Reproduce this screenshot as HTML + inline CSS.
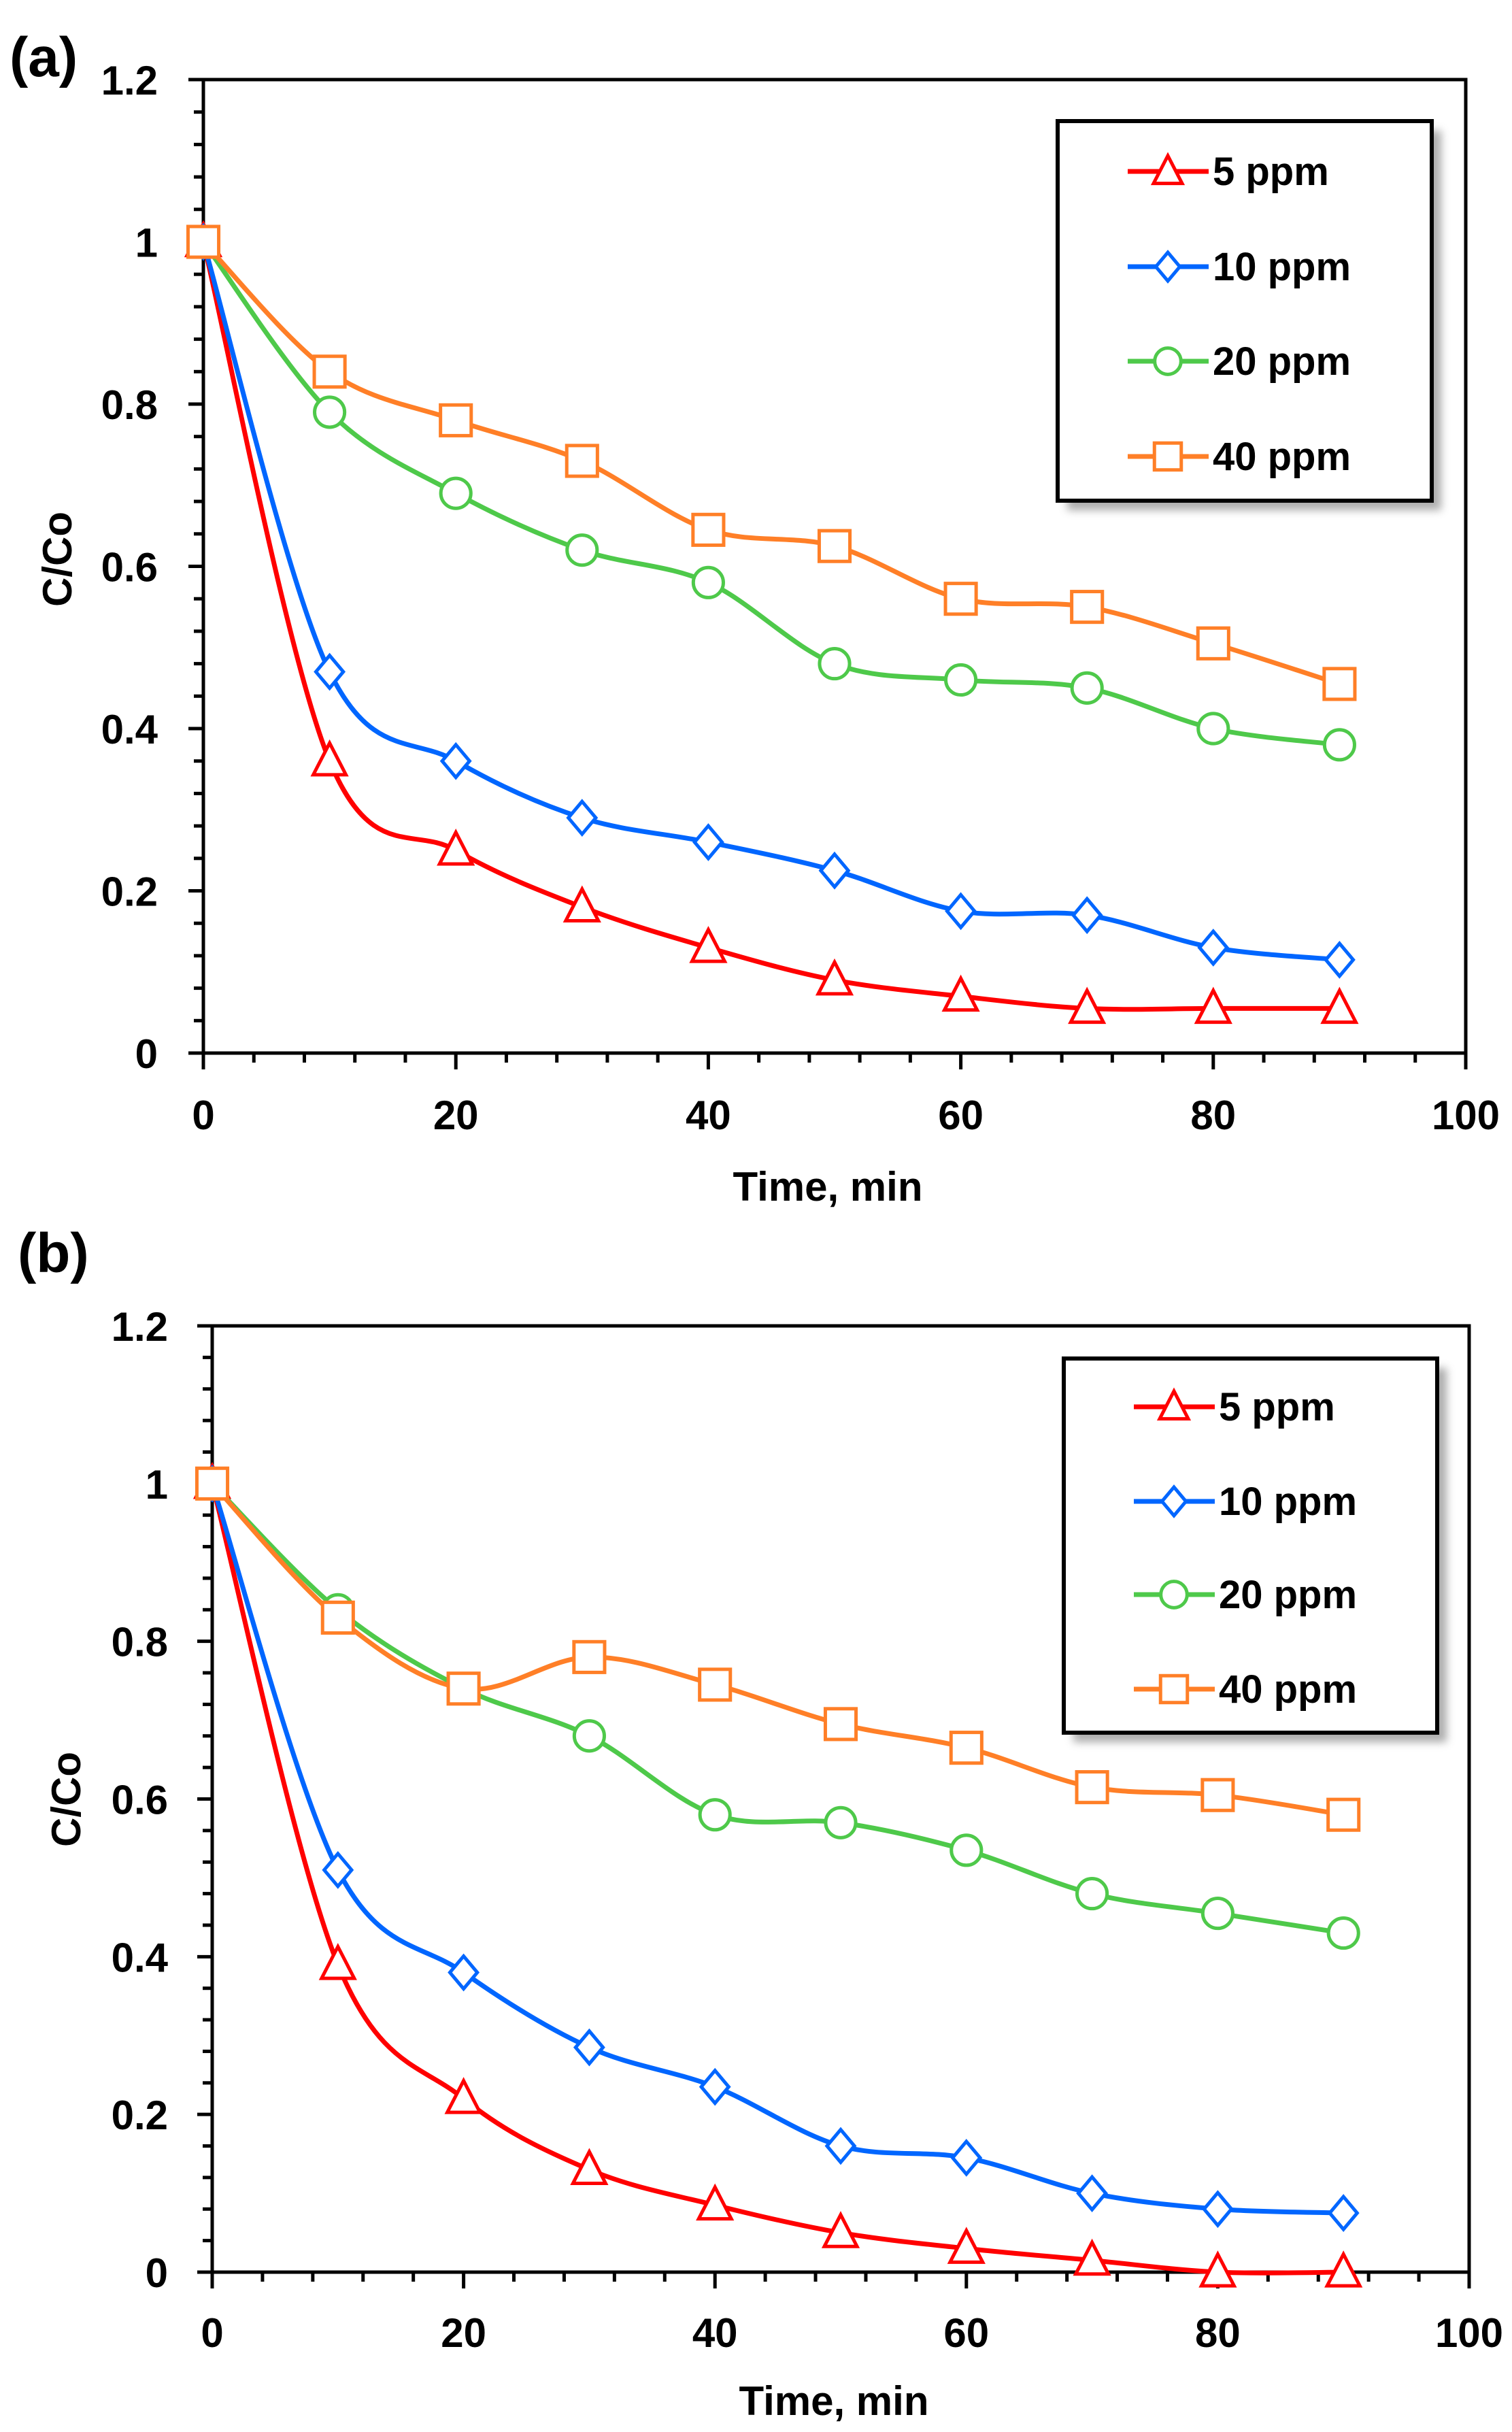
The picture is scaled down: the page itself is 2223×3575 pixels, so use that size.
<!DOCTYPE html>
<html><head><meta charset="utf-8">
<style>
html,body{margin:0;padding:0;background:#fff;}
svg{display:block;font-family:"Liberation Sans",sans-serif;font-weight:bold;}
</style></head>
<body>
<svg id="fig" width="2223" height="3575" viewBox="0 0 2223 3575" xmlns="http://www.w3.org/2000/svg">
<defs>
<filter id="shadow" x="-10%" y="-10%" width="130%" height="130%"><feGaussianBlur stdDeviation="6"/></filter>
</defs>
</svg>
<script>
// ---- data ----
const times = [0,10,20,30,40,50,60,70,80,90];
const seriesNames = ["5 ppm","10 ppm","20 ppm","40 ppm"];
const xTicks = [0,20,40,60,80,100];
const yTicks = [0,0.2,0.4,0.6,0.8,1,1.2];
const yTickLabels = ["0","0.2","0.4","0.6","0.8","1","1.2"];
const a5ppm  = [1,0.36,0.25,0.18,0.13,0.09,0.07,0.055,0.055,0.055];
const a10ppm = [1,0.47,0.36,0.29,0.26,0.225,0.175,0.17,0.13,0.115];
const a20ppm = [1,0.79,0.69,0.62,0.58,0.48,0.46,0.45,0.40,0.38];
const a40ppm = [1,0.84,0.78,0.73,0.645,0.625,0.56,0.55,0.505,0.455];
const b5ppm  = [1,0.39,0.22,0.13,0.085,0.05,0.03,0.015,0,0];
const b10ppm = [1,0.51,0.38,0.285,0.235,0.16,0.145,0.10,0.08,0.075];
const b20ppm = [1,0.84,0.74,0.68,0.58,0.57,0.535,0.48,0.455,0.43];
const b40ppm = [1,0.83,0.74,0.78,0.745,0.695,0.665,0.615,0.605,0.58];

const NS="http://www.w3.org/2000/svg";
const svg=document.getElementById('fig');
const colors=["#ff0000","#0066ff","#4ec94a","#ff7f27"];
const markers=["triangle","diamond","circle","square"];

function mk(tag,attrs,parent){const e=document.createElementNS(NS,tag);for(const k in attrs)e.setAttribute(k,attrs[k]);(parent||svg).appendChild(e);return e;}

function smoothPath(pts){
  let d="M"+pts[0][0]+","+pts[0][1];
  for(let i=0;i<pts.length-1;i++){
    const p0=pts[Math.max(0,i-1)],p1=pts[i],p2=pts[i+1],p3=pts[Math.min(pts.length-1,i+2)];
    const c1x=p1[0]+(p2[0]-p0[0])/6,c1y=p1[1]+(p2[1]-p0[1])/6;
    const c2x=p2[0]-(p3[0]-p1[0])/6,c2y=p2[1]-(p3[1]-p1[1])/6;
    d+=" C"+c1x+","+c1y+" "+c2x+","+c2y+" "+p2[0]+","+p2[1];
  }
  return d;
}

function drawMarker(g,type,x,y,s,color){
  let e;
  const st={fill:"#fff",stroke:color,"stroke-width":5};
  if(type==="triangle"){e=mk('polygon',Object.assign({points:`${x},${y-s*0.55} ${x+s*0.5},${y+s*0.42} ${x-s*0.5},${y+s*0.42}`},st),g);}
  else if(type==="diamond"){e=mk('polygon',Object.assign({points:`${x},${y-s*0.5} ${x+s*0.42},${y} ${x},${y+s*0.5} ${x-s*0.42},${y}`},st),g);}
  else if(type==="circle"){e=mk('circle',Object.assign({cx:x,cy:y,r:s*0.46},st),g);}
  else {e=mk('rect',Object.assign({x:x-s*0.47,y:y-s*0.47,width:s*0.94,height:s*0.94},st),g);}
  return e;
}

function drawChart(cfg){
  const g=mk('g',{});
  
  
  const X=v=>cfg.x0+(v-0)/100*(cfg.x1-cfg.x0);
  const Y=v=>cfg.y0-(v/1.2)*(cfg.y0-cfg.y1);
  // panel label
  const pl=mk('text',{x:cfg.labelX,y:cfg.labelY,'font-size':82},g);pl.textContent=cfg.label;
  
  
  // frame
  const fr=mk('rect',{x:cfg.x0,y:cfg.y1,width:cfg.x1-cfg.x0,height:cfg.y0-cfg.y1,fill:"none",stroke:"#000","stroke-width":5},g);
  
  
  // y ticks
  for(let v=0;v<=1.2001;v+=0.04){
    const major=Math.abs(v/0.2-Math.round(v/0.2))<1e-6;
    mk('line',{x1:cfg.x0-(major?22:14),x2:cfg.x0,y1:Y(v),y2:Y(v),stroke:"#000","stroke-width":5},g);
  }
  yTicks.forEach((v,i)=>{
    const t=mk('text',{x:cfg.yLabelRight,y:Y(v)+22,'text-anchor':'end','font-size':60},g);
    t.textContent=yTickLabels[i];
    
    
  });
  // x ticks
  for(let v=0;v<=100;v+=4){
    const major=v%20===0;
    mk('line',{x1:X(v),x2:X(v),y1:cfg.y0,y2:cfg.y0+(major?24:14),stroke:"#000","stroke-width":5},g);
  }
  xTicks.forEach(v=>{
    const t=mk('text',{x:X(v),y:cfg.xLabelY,'text-anchor':'middle','font-size':60},g);
    t.textContent=String(v);
    
    
  });
  const xt=mk('text',{x:(cfg.x0+cfg.x1)/2-10,y:cfg.xTitleY,'text-anchor':'middle','font-size':60},g);
  xt.textContent="Time, min";
  
  
  const yt=mk('text',{x:0,y:0,'text-anchor':'middle','font-size':60,transform:`translate(${cfg.yTitleX},${cfg.yTitleY}) rotate(-90)`},g);
  yt.textContent="C/Co";
  
  
  // series
  cfg.series.forEach((vals,si)=>{
    const sg=mk('g',{},g);
    
    
    const pts=times.map((t,i)=>[X(t),Y(vals[i])]);
    const p=mk('path',{d:smoothPath(pts),fill:"none",stroke:colors[si],"stroke-width":7,"stroke-linejoin":"round"},sg);
    
    
    pts.forEach(pt=>{
      const m=drawMarker(sg,markers[si],pt[0],pt[1],48,colors[si]);
      
      
    });
  });
  // legend
  const lg=mk('g',{},g);
  
  
  const L=cfg.legend;
  mk('rect',{x:L.x+14,y:L.y+14,width:L.w,height:L.h,fill:"#999",filter:"url(#shadow)",opacity:0.8},lg);
  mk('rect',{x:L.x,y:L.y,width:L.w,height:L.h,fill:"#fff",stroke:"#000","stroke-width":6},lg);
  seriesNames.forEach((n,si)=>{
    const ey=L.rows[si];
    const e=mk('g',{},lg);
    
    
    mk('line',{x1:L.x+103,x2:L.x+222,y1:ey,y2:ey,stroke:colors[si],"stroke-width":7},e);
    drawMarker(e,markers[si],L.x+162,ey,42,colors[si]);
    const t=mk('text',{x:L.x+228,y:ey+20,'font-size':58},e);
    t.textContent=n;
  });
}

drawChart({name:"chart-a",label:"(a)",labelX:14,labelY:112,
  x0:299,x1:2155,y0:1548,y1:117,yLabelRight:232,xLabelY:1660,xTitleY:1765,yTitleX:105,yTitleY:822,
  series:[a5ppm,a10ppm,a20ppm,a40ppm],
  legend:{x:1555,y:178,w:550,h:558,rows:[252,392,531,671]}});
drawChart({name:"chart-b",label:"(b)",labelX:26,labelY:1870,
  x0:312,x1:2160,y0:3340,y1:1949,yLabelRight:247,xLabelY:3450,xTitleY:3550,yTitleX:118,yTitleY:2645,
  series:[b5ppm,b10ppm,b20ppm,b40ppm],
  legend:{x:1564,y:1997,w:549,h:550,rows:[2068,2207,2344,2483]}});
</script>
</body></html>
